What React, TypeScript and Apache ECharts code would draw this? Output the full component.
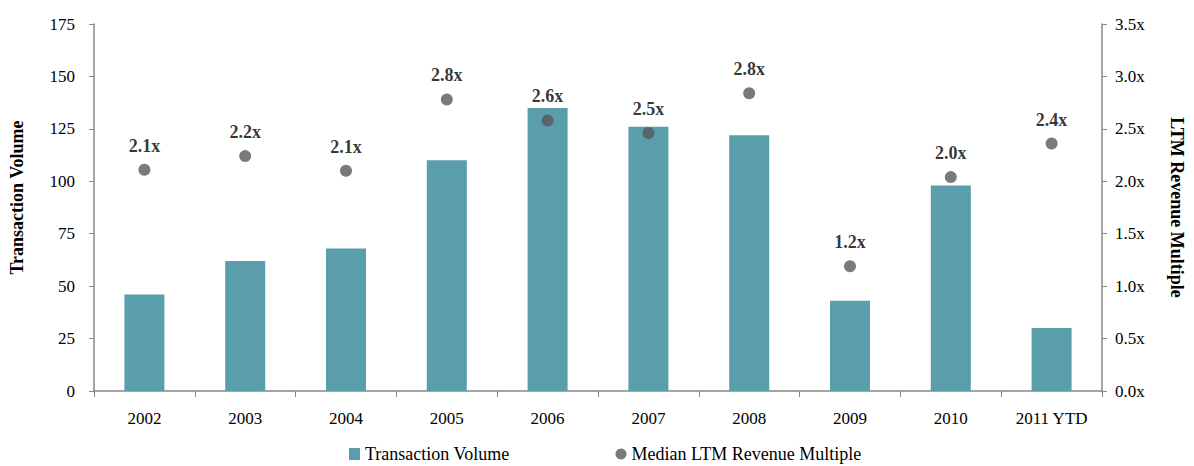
import React, { useEffect, useRef } from "react";
import * as echarts from "echarts";

const categories = ["2002", "2003", "2004", "2005", "2006", "2007", "2008", "2009", "2010", "2011 YTD"];
const transactionVolume = [46, 62, 68, 110, 135, 126, 122, 43, 98, 30];
const revenueMultiple = [2.11, 2.24, 2.1, 2.78, 2.58, 2.46, 2.84, 1.19, 2.04, 2.36];
const leftTicks = [0, 25, 50, 75, 100, 125, 150, 175];
const rightTicks = [0, 0.5, 1, 1.5, 2, 2.5, 3, 3.5];

const FONT = "Liberation Serif";

export default function App() {
  const ref = useRef<HTMLDivElement>(null);
  useEffect(() => {
    if (!ref.current) return;
    const chart = echarts.init(ref.current, undefined, { renderer: "svg" });
    chart.setOption({
      animation: false,
      backgroundColor: "#ffffff",
      textStyle: { fontFamily: FONT },
      grid: { left: 91, right: 83, top: 24, bottom: 75 },
      legend: {
        top: 442,
        left: 344,
        padding: [2, 5, 2, 5],
        itemGap: 106,
        itemWidth: 11,
        itemHeight: 12,
        textStyle: { fontFamily: FONT, fontSize: 18, color: "#000", lineHeight: 20 },
        data: [
          { name: "Transaction Volume", icon: "rect", itemStyle: { color: "#5A9DAB" } },
          { name: "Median LTM Revenue Multiple", icon: "circle", itemStyle: { color: "#595959" } },
        ],
      },
      xAxis: {
        type: "category",
        data: categories,
        axisLine: { lineStyle: { color: "#888", width: 1.5 } },
        axisTick: { show: true, alignWithLabel: false, length: 6, lineStyle: { color: "#888" } },
        axisLabel: { fontFamily: FONT, fontSize: 17, color: "#000", margin: 19 },
      },
      yAxis: [
        {
          type: "value",
          min: leftTicks[0],
          max: leftTicks[leftTicks.length - 1],
          interval: 25,
          name: "Transaction Volume",
          nameLocation: "middle",
          nameRotate: 90,
          nameGap: 68,
          nameTextStyle: { fontFamily: FONT, fontSize: 18, fontWeight: "bold", color: "#000", padding: [0, 0, 0, 20] },
          axisLine: { show: true, lineStyle: { color: "#888", width: 1.5 } },
          axisTick: { show: true, length: 5, lineStyle: { color: "#888" } },
          splitLine: { show: false },
          axisLabel: { fontFamily: FONT, fontSize: 17, color: "#000", margin: 19 },
        },
        {
          type: "value",
          min: rightTicks[0],
          max: rightTicks[rightTicks.length - 1],
          interval: 0.5,
          position: "right",
          name: "LTM Revenue Multiple",
          nameLocation: "middle",
          nameRotate: -90,
          nameGap: 66,
          nameTextStyle: { fontFamily: FONT, fontSize: 18, fontWeight: "bold", color: "#000" },
          axisLine: { show: true, lineStyle: { color: "#888", width: 1.5 } },
          axisTick: { show: true, length: 5, lineStyle: { color: "#888" } },
          splitLine: { show: false },
          axisLabel: {
            fontFamily: FONT,
            fontSize: 17,
            color: "#000",
            margin: 13,
            formatter: (v: number) => v.toFixed(1) + "x",
          },
        },
      ],
      series: [
        {
          name: "Transaction Volume",
          type: "bar",
          data: transactionVolume,
          barWidth: 40,
          yAxisIndex: 0,
          itemStyle: { color: "#5A9DAB" },
        },
        {
          name: "Median LTM Revenue Multiple",
          type: "scatter",
          data: revenueMultiple,
          yAxisIndex: 1,
          symbol: "circle",
          symbolSize: 12,
          itemStyle: { color: "#595959" },
          label: {
            show: true,
            position: "top",
            distance: 9,
            fontFamily: FONT,
            fontSize: 18,
            fontWeight: "bold",
            color: "#000",
            formatter: (p: any) => p.value.toFixed(1) + "x",
          },
        },
      ],
    });
    return () => chart.dispose();
  }, []);
  return <div ref={ref} style={{ position: "fixed", left: 0, top: 0, width: 1194, height: 466 }} />;
}
